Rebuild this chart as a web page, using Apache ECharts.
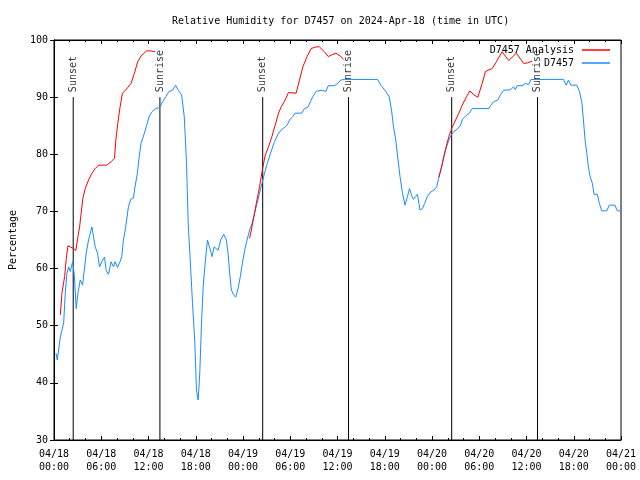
<!DOCTYPE html>
<html>
<head>
<meta charset="utf-8">
<script src="https://cdn.jsdelivr.net/npm/echarts@6/dist/echarts.min.js"></script>
<style>html,body{margin:0;padding:0;background:#fff}#c{width:640px;height:480px}</style>
</head>
<body>
<div id="c"></div>
<script>
// Hours since 2024-04-18 00:00 UTC
const xTickLabels = ['04/18\n00:00','04/18\n06:00','04/18\n12:00','04/18\n18:00','04/19\n00:00','04/19\n06:00','04/19\n12:00','04/19\n18:00','04/20\n00:00','04/20\n06:00','04/20\n12:00','04/20\n18:00','04/21\n00:00'];

const blueHours = [0.25,0.42,0.8,1.23,1.43,1.64,1.86,2.06,2.37,2.57,2.82,3.04,3.33,3.63,3.84,4.09,4.39,4.81,5.02,5.23,5.53,5.78,6.07,6.42,6.62,6.92,7.25,7.55,7.76,8.06,8.39,8.6,8.82,9.11,9.45,9.74,10.08,10.29,10.59,10.79,11.05,11.48,11.77,12.11,12.49,12.91,13.45,13.79,14.21,14.59,15.06,15.44,15.78,16.2,16.54,16.83,17.04,17.25,17.59,17.88,18.09,18.31,18.51,18.73,18.94,19.23,19.49,19.78,20.08,20.33,20.54,20.84,21.17,21.55,21.89,22.1,22.31,22.52,22.81,23.07,23.37,23.66,23.92,24.21,24.51,24.84,25.14,25.47,25.78,26.1,26.41,26.74,27.08,27.5,28.0,28.51,28.85,29.27,29.61,29.9,30.33,30.62,31.47,31.8,32.23,32.56,32.86,33.28,33.91,34.54,34.83,35.59,36.02,36.44,36.86,41.09,41.5,42.14,42.55,42.86,43.11,43.4,43.69,43.94,44.25,44.58,44.88,45.14,45.39,45.64,45.89,46.15,46.48,46.78,47.07,47.41,47.74,48.25,48.59,48.88,49.18,49.51,49.85,50.14,50.45,50.78,51.21,51.63,51.84,52.26,52.68,53.11,55.21,55.42,55.84,56.35,56.69,57.11,57.95,58.37,58.59,58.8,59.43,59.85,60.27,60.57,64.7,65.04,65.33,65.63,66.39,66.72,67.02,67.23,67.44,67.66,67.86,68.08,68.37,68.58,69.0,69.25,69.56,70.19,70.52,71.24,71.53,72.0];
const blueValues = [45.2,44,48,50.5,55.7,59.2,60.3,59.5,61.2,59,53,55.7,58,57.1,57,62.7,65,67.3,67,63.8,62.7,60.3,61.2,62,59.7,59,61.2,60.3,61.2,60.2,61.2,62.1,65,67.3,70.8,72.1,72.3,74.3,76.7,79.3,81.9,83.7,85.1,86.7,87.5,88,88.2,89.2,90.1,91,91.2,92.1,91.2,90.4,86.6,78.4,67.9,62.7,53.9,47.2,38.75,37,41.7,50.4,56.8,61.5,65,63.6,62.1,63.8,64.1,63.2,65,66,65,62.7,59.2,56.25,55.4,55,56.5,58.6,60.9,63.2,65,66.75,67.9,69.7,71.4,73.2,74.9,76.7,78.4,80.2,82.2,83.7,84.25,84.7,85.1,86,86.6,87.2,87.2,88,88.2,89.2,90.1,91,91.2,91,92,92,92.4,93,93.1,93.1,92.1,91,90.1,87.75,84.8,82.5,79,76.1,73.2,71.1,72.6,74,72.9,72.1,72.6,73,70.25,70.5,71.4,72.6,73.3,73.75,74.3,76,77.5,79.6,81.3,82.5,83.4,84,84.4,85.1,86.1,86.7,87.1,88,88,88.5,89.2,89.5,90.4,91.2,91.3,91.8,91.3,92,92,92.4,92.2,93.1,93.1,92.1,93,92.1,92.1,91,89.2,86,82.5,80.2,77.8,76.1,74.9,73,73,71.4,70.1,70.1,71.1,71.1,70.1,70.1];

const redHours = [0.8,1.01,1.35,1.56,1.77,2.06,2.37,2.78,3.04,3.25,3.45,3.67,3.96,4.39,4.81,5.23,5.66,6.71,7.25,7.68,7.85,8.1,8.39,8.69,9.11,9.78,10.21,10.63,11.05,11.77,12.19,12.82,18.0,24.84,25.27,25.69,26.1,26.53,26.83,27.24,27.67,28.09,28.51,28.85,29.36,29.77,30.75,31.17,31.6,32.14,32.65,33.28,33.7,34.33,34.83,35.27,35.81,36.35,36.78,42.0,48.88,49.31,49.73,50.14,50.58,51.0,51.54,51.84,52.39,52.81,53.31,53.82,54.37,54.79,55.64,56.18,56.9,57.74,58.71,59.64,60.14,60.7];
const redValues = [51.9,55.7,58.6,61.8,64,63.8,63.6,63.2,65.6,67.3,69.7,72.3,74,75.5,76.7,77.5,78.1,78.1,78.7,79.3,82.5,85.4,88.3,90.7,91.25,92.4,94.2,96.2,97.2,98.1,98.1,97.95,null,65.3,68.2,71.4,74.3,77.8,79.9,81.3,83.1,85.1,87.2,88.3,89.5,90.8,90.7,93,95.3,97.1,98.5,98.8,98.8,97.95,97.1,97.4,97.7,97.2,96.6,null,76,78.4,81,83.1,84.8,86,87.6,88.6,90.1,91.1,90.4,90,92.4,94.5,95,96.2,97.95,96.4,97.7,95.9,96,96.3];

const sunsetHours = [2.44, 26.5, 50.5];
const sunriseHours = [13.45, 37.4, 61.4];
const sunLineBottom = 30, sunLineTop = 90;

const FONT = 'DejaVu Sans Mono';
const blue = '#1a8cff', red = '#ff0000';

function zip(a, b) { return a.map((v, i) => [v, b[i]]); }

const sunSeries = [];
sunsetHours.concat(sunriseHours).forEach(t => {
  sunSeries.push({
    type: 'line', data: [[t, sunLineBottom], [t, sunLineTop]], symbol: 'none', silent: true,
    lineStyle: {color: '#000', width: 1}, z: 1
  });
});
function sunLabels(hours, text) {
  return {
    type: 'scatter', data: hours.map(t => [t, sunLineTop]), symbolSize: 0, silent: true,
    itemStyle: {color: 'transparent'},
    label: {show: true, formatter: text, position: [0, -5], align: 'left', verticalAlign: 'middle',
      rotate: 90, color: '#000', fontFamily: FONT, fontSize: 10}
  };
}

const axisCommonX = {
  type: 'value', min: 0, max: 72, interval: 6,
  axisLine: {show: true, lineStyle: {color: '#000', width: 1}},
  axisTick: {show: true, inside: true, length: 4, lineStyle: {color: '#000'}},
  minorTick: {show: true, splitNumber: 3, length: 2, lineStyle: {color: '#000'}},
  splitLine: {show: false}, minorSplitLine: {show: false}
};
const axisCommonY = {
  type: 'value', min: 30, max: 100, interval: 10,
  axisLine: {show: true, lineStyle: {color: '#000', width: 1}},
  axisTick: {show: true, inside: true, length: 4, lineStyle: {color: '#000'}},
  splitLine: {show: false}
};

const chart = echarts.init(document.getElementById('c'), null, {renderer: 'canvas'});
chart.setOption({
  animation: false,
  backgroundColor: '#fff',
  textStyle: {fontFamily: FONT},
  title: {
    text: 'Relative Humidity for D7457 on 2024-Apr-18 (time in UTC)',
    left: 167, top: 11,
    textStyle: {fontFamily: FONT, fontSize: 10, fontWeight: 'normal', color: '#000'}
  },
  legend: {
    data: ['D7457 Analysis', 'D7457'],
    orient: 'vertical', right: 25, top: 39, align: 'right',
    itemWidth: 28, itemHeight: 1.5, itemGap: 1, icon: 'rect',
    textStyle: {fontFamily: FONT, fontSize: 10, color: '#000', lineHeight: 12, padding: [0, 3, 0, 0]}
  },
  grid: {left: 52, right: 19, top: 40, bottom: 40, show: true, borderColor: '#000', borderWidth: 1},
  xAxis: [
    Object.assign({}, axisCommonX, {position: 'bottom',
      axisLabel: {show: true, margin: 8, color: '#000', fontFamily: FONT, fontSize: 10, lineHeight: 13,
        formatter: v => xTickLabels[Math.round(v / 6)]}}),
    Object.assign({}, axisCommonX, {position: 'top', axisLabel: {show: false}})
  ],
  yAxis: [
    Object.assign({}, axisCommonY, {position: 'left', name: 'Percentage', nameLocation: 'middle', nameGap: 36,
      nameTextStyle: {fontFamily: FONT, fontSize: 10, color: '#000'},
      axisLabel: {show: true, margin: 6, color: '#000', fontFamily: FONT, fontSize: 10}}),
    Object.assign({}, axisCommonY, {position: 'right', axisLabel: {show: false}})
  ],
  series: sunSeries.concat([
    sunLabels(sunsetHours, 'Sunset'),
    sunLabels(sunriseHours, 'Sunrise'),
    {name: 'D7457 Analysis', type: 'line', data: zip(redHours, redValues), symbol: 'none', connectNulls: false,
      lineStyle: {color: red, width: 1}, itemStyle: {color: red}, z: 3},
    {name: 'D7457', type: 'line', data: zip(blueHours, blueValues), symbol: 'none',
      lineStyle: {color: blue, width: 1}, itemStyle: {color: blue}, z: 2}
  ])
});
</script>
</body>
</html>
